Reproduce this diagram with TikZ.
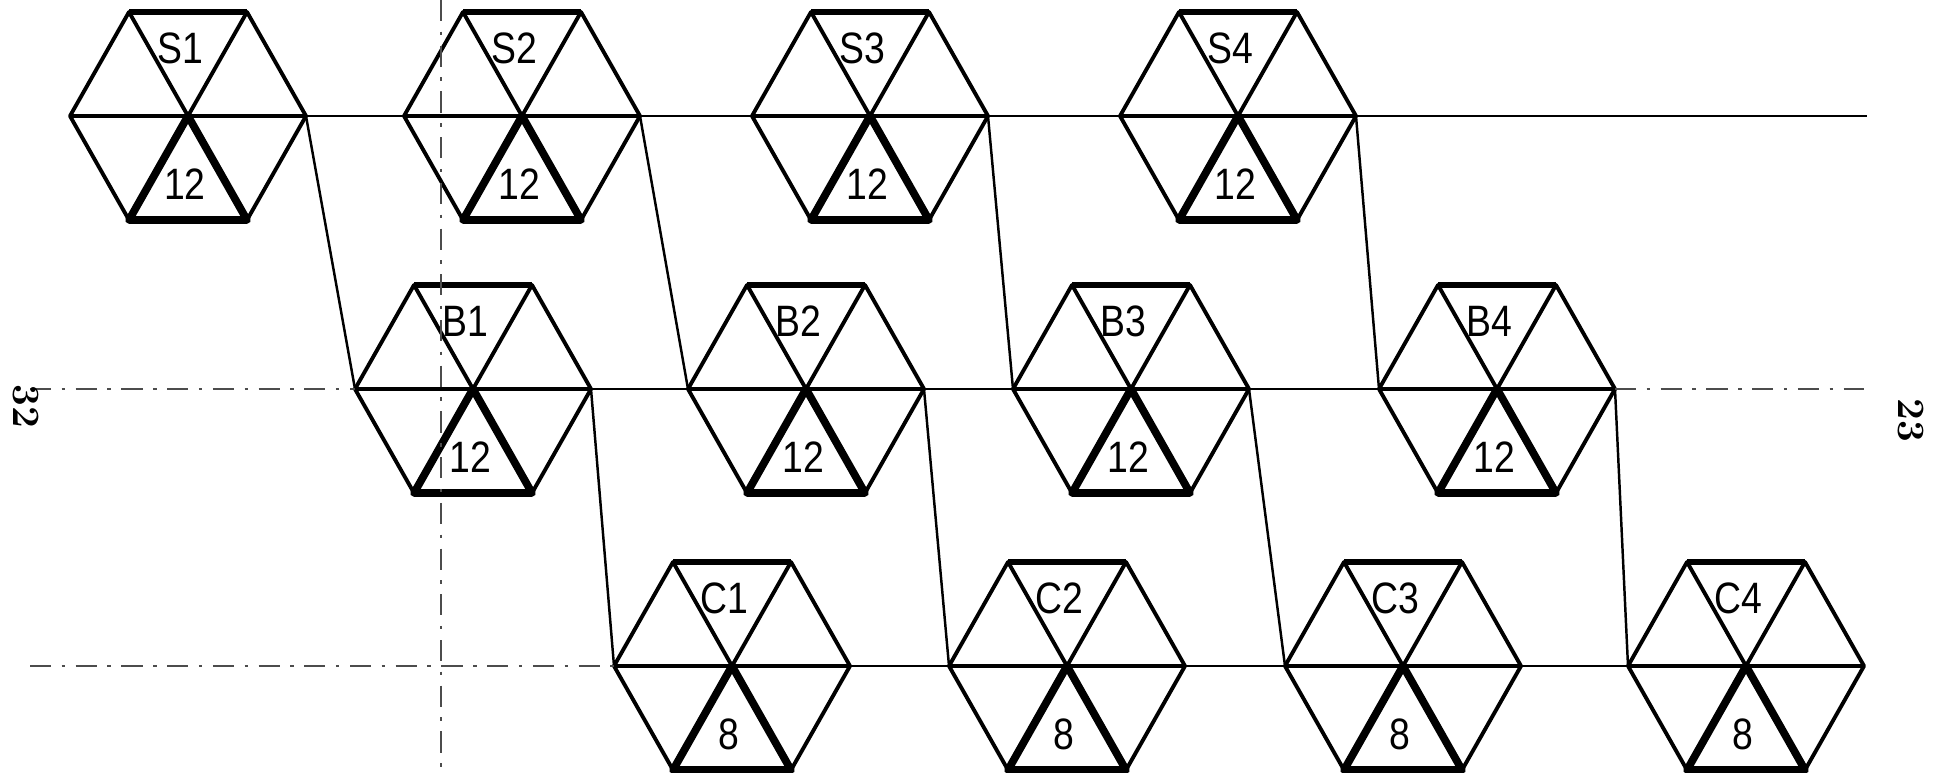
\documentclass[tikz,border=0pt]{standalone}
\usepackage{fontspec}
\setsansfont{Liberation Sans}
\usetikzlibrary{calc}
\tikzset{every picture/.style={line width=0.75pt}}
\tikzset{
  edge/.style={line width=1.1pt, line join=round},
  heavy/.style={line width=2.2pt, line join=round},
  link/.style={line width=0.7pt},
  guide/.style={line width=0.4pt, black!70, dash pattern=on 6pt off 3pt on 1pt off 3pt},
  lbl/.style={font=\sffamily\fontsize{12.5}{14}\selectfont, xscale=0.85, inner sep=0pt},
  pagenum/.style={font=\bfseries\fontsize{11}{12}\selectfont, inner sep=0pt, rotate=-90},
  pics/hexcell/.style 2 args={code={
    \coordinate (-c) at (0,0);
    \coordinate (-w) at (-118,0);
    \coordinate (-e) at (118,0);
    \coordinate (-nw) at (-59,104);
    \coordinate (-ne) at (59,104);
    \coordinate (-sw) at (-59,-104);
    \coordinate (-se) at (59,-104);
    \draw[edge] (-w) -- (-nw) -- (-ne) -- (-e) -- (-se) -- (-sw) -- cycle;
    \draw[edge] (-w) -- (-e) (-nw) -- (-se) (-ne) -- (-sw);
    \draw[line width=1.6pt] (-nw) -- (-ne);
    \draw[heavy] (-c) -- (-sw) -- (-se) -- cycle;
    \node[lbl] (-top) at (-8,68) {#1};
    \node[lbl] (-bot) at (-3,-68) {#2};
  }}
}

\begin{document}
\begin{tikzpicture}[x=0.01cm, y=0.01cm]
    \useasboundingbox (0,0) rectangle (1936,772);

    \foreach \nm/\px/\py/\nb in {S1/188/656/12, S2/522/656/12, S3/870/656/12, S4/1238/656/12,
                                 B1/473/383/12, B2/806/383/12, B3/1131/383/12, B4/1497/383/12,
                                 C1/732/106/8, C2/1067/106/8, C3/1403/106/8, C4/1746/106/8}
        \pic (\nm) at (\px,\py) {hexcell={\nm}{\nb}};

    \foreach \a/\b in {S1/S2, S2/S3, S3/S4, B1/B2, B2/B3, B3/B4, C1/C2, C2/C3, C3/C4,
                       S1/B1, S2/B2, S3/B3, S4/B4, B1/C1, B2/C2, B3/C3, B4/C4}
        \draw[link] (\a-e) -- (\b-w);

    \coordinate (sEnd) at (1867,656);
    \coordinate (bStart) at (30,383);
    \coordinate (bEnd) at (1864,383);
    \coordinate (cStart) at (30,106);
    \coordinate (vTop) at (441,772);
    \coordinate (vBot) at (441,0);

    \draw[link] (S4-e) -- (sEnd);
    \draw[guide] (bStart) -- (B1-w);
    \draw[guide] (B4-e) -- (bEnd);
    \draw[guide] (cStart) -- (C1-w);
    \draw[guide] (vTop) -- (vBot);

    \node[pagenum] (pgL) at (26,366) {32};
    \node[pagenum] (pgR) at (1911,352) {23};
\end{tikzpicture}
\end{document}
